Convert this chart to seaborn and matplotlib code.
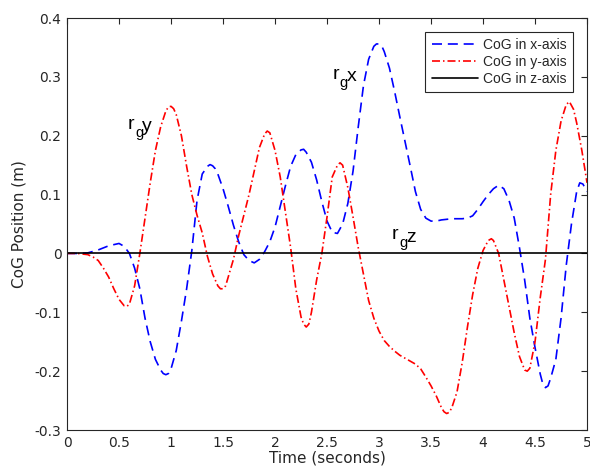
import numpy as np
import pandas as pd
import matplotlib
matplotlib.use("Agg")
import matplotlib.pyplot as plt
import seaborn as sns

# CoG in x-axis
t_x = [0.0, 0.1, 0.2, 0.3, 0.4, 0.5, 0.55, 0.6, 0.65, 0.7, 0.75, 0.8, 0.85, 0.9,
       0.925, 0.95, 0.975, 1.0, 1.05, 1.1, 1.15, 1.2, 1.25, 1.3, 1.35, 1.375,
       1.4, 1.425, 1.45, 1.5, 1.55, 1.6, 1.65, 1.7, 1.75, 1.8, 1.85, 1.9, 1.95,
       2.0, 2.05, 2.1, 2.15, 2.2, 2.25, 2.275, 2.3, 2.35, 2.4, 2.45, 2.5, 2.55,
       2.6, 2.65, 2.7, 2.75, 2.8, 2.85, 2.9, 2.95, 2.975, 3.0, 3.025, 3.05, 3.1,
       3.15, 3.2, 3.25, 3.3, 3.35, 3.4, 3.45, 3.5, 3.55, 3.6, 3.7, 3.8, 3.85,
       3.9, 3.95, 4.0, 4.05, 4.1, 4.15, 4.2, 4.25, 4.3, 4.35, 4.4, 4.45, 4.5,
       4.55, 4.575, 4.6, 4.625, 4.65, 4.7, 4.75, 4.8, 4.85, 4.9, 4.93, 4.96, 5.0]
cog_x = [0.0, 0.0, 0.001, 0.006, 0.013, 0.017, 0.012, 0.0, -0.025, -0.06,
         -0.11, -0.15, -0.18, -0.198, -0.204, -0.206, -0.204, -0.196, -0.165,
         -0.115, -0.06, 0.005, 0.09, 0.135, 0.148, 0.151, 0.149, 0.144, 0.135,
         0.11, 0.08, 0.048, 0.02, -0.002, -0.012, -0.016, -0.01, 0.003, 0.02,
         0.045, 0.08, 0.115, 0.148, 0.168, 0.176, 0.177, 0.172, 0.155, 0.125,
         0.088, 0.055, 0.036, 0.034, 0.05, 0.085, 0.14, 0.215, 0.285, 0.33,
         0.352, 0.356, 0.356, 0.353, 0.343, 0.315, 0.275, 0.232, 0.19, 0.148,
         0.105, 0.075, 0.06, 0.055, 0.055, 0.057, 0.059, 0.059, 0.06, 0.064,
         0.075, 0.088, 0.1, 0.11, 0.116, 0.11, 0.09, 0.06, 0.01, -0.045, -0.11,
         -0.16, -0.205, -0.222, -0.228, -0.225, -0.212, -0.18, -0.11, -0.02,
         0.05, 0.105, 0.12, 0.118, 0.105]

# CoG in y-axis
t_y = [0.0, 0.1, 0.2, 0.25, 0.3, 0.35, 0.4, 0.45, 0.5, 0.55, 0.575, 0.6, 0.65,
       0.7, 0.75, 0.8, 0.85, 0.9, 0.95, 0.975, 1.0, 1.025, 1.05, 1.1, 1.15,
       1.2, 1.25, 1.3, 1.35, 1.4, 1.45, 1.475, 1.5, 1.525, 1.55, 1.6, 1.65,
       1.7, 1.75, 1.8, 1.85, 1.9, 1.925, 1.95, 2.0, 2.05, 2.1, 2.15, 2.2, 2.25,
       2.275, 2.3, 2.325, 2.35, 2.4, 2.45, 2.5, 2.55, 2.6, 2.625, 2.65, 2.7,
       2.75, 2.8, 2.85, 2.9, 2.95, 3.0, 3.05, 3.1, 3.15, 3.2, 3.25, 3.3, 3.35,
       3.4, 3.45, 3.5, 3.55, 3.6, 3.625, 3.65, 3.675, 3.7, 3.75, 3.8, 3.85,
       3.9, 3.95, 4.0, 4.05, 4.08, 4.1, 4.15, 4.2, 4.25, 4.3, 4.35, 4.4, 4.425,
       4.45, 4.5, 4.55, 4.6, 4.65, 4.7, 4.75, 4.8, 4.83, 4.87, 4.9, 4.95, 5.0]
cog_y = [0.0, 0.0, -0.002, -0.006, -0.012, -0.025, -0.04, -0.06, -0.078,
         -0.089, -0.09, -0.086, -0.055, 0.0, 0.06, 0.12, 0.175, 0.215, 0.242,
         0.249, 0.25, 0.246, 0.236, 0.2, 0.148, 0.1, 0.065, 0.035, -0.005,
         -0.035, -0.055, -0.06, -0.06, -0.055, -0.04, -0.01, 0.03, 0.065, 0.1,
         0.14, 0.18, 0.203, 0.208, 0.205, 0.175, 0.13, 0.07, 0.01, -0.06,
         -0.108, -0.12, -0.125, -0.12, -0.1, -0.045, 0.0, 0.062, 0.13, 0.15,
         0.154, 0.15, 0.112, 0.062, 0.01, -0.035, -0.08, -0.11, -0.132, -0.148,
         -0.158, -0.166, -0.173, -0.178, -0.183, -0.188, -0.196, -0.21, -0.225,
         -0.242, -0.262, -0.269, -0.272, -0.27, -0.262, -0.235, -0.185, -0.125,
         -0.07, -0.025, 0.005, 0.022, 0.025, 0.022, 0.0, -0.045, -0.09, -0.135,
         -0.175, -0.198, -0.2, -0.195, -0.15, -0.075, -0.01, 0.1, 0.175, 0.225,
         0.253, 0.258, 0.245, 0.222, 0.175, 0.12]

# CoG in z-axis
t_z = [0.0, 5.0]
cog_z = [0.0, 0.0]

x_ticks = [0, 0.5, 1, 1.5, 2, 2.5, 3, 3.5, 4, 4.5, 5]
y_ticks = [-0.3, -0.2, -0.1, 0, 0.1, 0.2, 0.3, 0.4]

# labels r_g? with the anchor where the "r" starts
tags = [('y', 0.587, 0.212), ('x', 2.555, 0.297), ('z', 3.125, 0.025)]

sns.set_style("white")
plt.rcParams['font.family'] = ['DejaVu Sans']
INK = '#262626'

fig = plt.figure(figsize=(5.9, 4.75), dpi=100)
ax = fig.add_axes([0.1136, 0.0947, 0.8814, 0.8673])

sns.lineplot(x=t_x, y=cog_x, ax=ax, color='#0000ff', lw=1.2,
             label='CoG in x-axis')
sns.lineplot(x=t_y, y=cog_y, ax=ax, color='#ff0000', lw=1.2,
             label='CoG in y-axis')
sns.lineplot(x=t_z, y=cog_z, ax=ax, color='black', lw=1.2,
             label='CoG in z-axis')
ax.lines[0].set_dashes((6, 3.5))
ax.lines[1].set_dashes((4.8, 1.8, 0.9, 1.8))

ax.set_xlim(0, 5)
ax.set_ylim(-0.3, 0.4)
ax.set_xticks(x_ticks)
ax.set_xticklabels([f'{v:g}' for v in x_ticks])
ax.set_yticks(y_ticks)
ax.set_yticklabels([f'{v:g}' for v in y_ticks])
ax.tick_params(direction='in', length=4, width=0.8, labelsize=10, pad=4,
               top=True, right=True, colors=INK, labelcolor=INK)
for s in ax.spines.values():
    s.set_linewidth(0.8)
    s.set_color(INK)
    s.set_visible(True)

ax.set_xlabel('Time (seconds)', fontsize=11, color=INK, labelpad=1)
ax.set_ylabel('CoG Position (m)', fontsize=11, color=INK, labelpad=6)

# MATLAB-style subscript: r, dropped g, then the axis letter
lab_font = ['Liberation Sans', 'DejaVu Sans']
for letter, tx, ty in tags:
    ax.text(tx, ty, 'r', fontsize=14, family=lab_font, color='black')
    ax.annotate('g', (tx, ty), xytext=(5.0, -6.0), textcoords='offset points',
                fontsize=10.5, family=lab_font, color='black')
    ax.annotate(letter, (tx, ty), xytext=(10.2, -2.0), textcoords='offset points',
                fontsize=14, family=lab_font, color='black')

leg = ax.legend(loc='upper right', bbox_to_anchor=(0.973, 0.966),
                prop={'family': lab_font, 'size': 10},
                frameon=True, fancybox=False, handlelength=3.3,
                borderpad=0.45, labelspacing=0.2, handletextpad=0.4,
                borderaxespad=0.0)
leg.get_frame().set_edgecolor(INK)
leg.get_frame().set_linewidth(0.8)
leg.get_frame().set_alpha(1)

fig.savefig('out.png', dpi=100)
